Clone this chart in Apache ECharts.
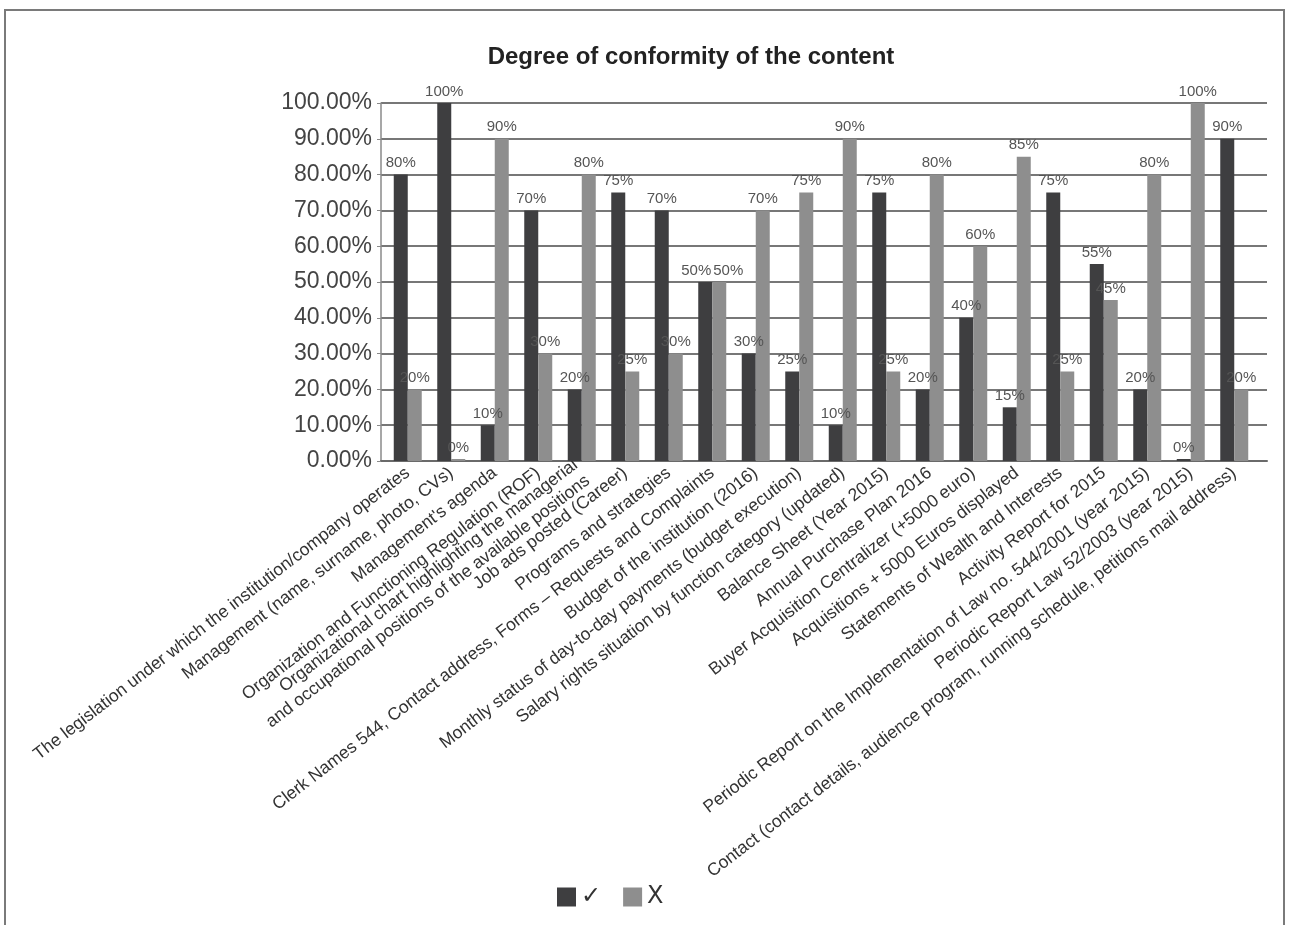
<!DOCTYPE html>
<html>
<head>
<meta charset="utf-8">
<script src="https://cdn.jsdelivr.net/npm/echarts@6/dist/echarts.min.js"></script>
<style>
html,body{margin:0;padding:0;background:#fff;}
#chart{width:1289px;height:925px;}
</style>
</head>
<body>
<div id="chart"></div>
<script>
const categories = [
  'The legislation under which the institution/company operates',
  'Management (name, surname, photo, CVs)',
  "Management's agenda",
  'Organization and Functioning Regulation (ROF)',
  'Organizational chart highlighting the managerial\nand occupational positions of the available positions',
  'Job ads posted (Career)',
  'Programs and strategies',
  'Clerk Names 544, Contact address, Forms – Requests and Complaints',
  'Budget of the institution (2016)',
  'Monthly status of day-to-day payments (budget execution)',
  'Salary rights situation by function category (updated)',
  'Balance Sheet (Year 2015)',
  'Annual Purchase Plan 2016',
  'Buyer Acquisition Centralizer (+5000 euro)',
  'Acquisitions + 5000 Euros displayed',
  'Statements of Wealth and Interests',
  'Activity Report for 2015',
  'Periodic Report on the Implementation of Law no. 544/2001 (year 2015)',
  'Periodic Report Law 52/2003 (year 2015)',
  'Contact (contact details, audience program, running schedule, petitions mail address)'
];
const conformValues    = [80, 100, 10, 70, 20, 75, 70, 50, 30, 25, 10, 75, 20, 40, 15, 75, 55, 20, 0, 90];
const nonConformValues = [20, 0, 90, 30, 80, 25, 30, 50, 70, 75, 90, 25, 80, 60, 85, 25, 45, 80, 100, 20];
const seriesNames = ['✓', 'X'];
const yMin = 0, yMax = 100, yStep = 10;

const chart = echarts.init(document.getElementById('chart'), null, {renderer: 'canvas'});
const sans = "'Liberation Sans', Arial, sans-serif";
const labelStyle = {
  show: true, position: 'top', distance: 4,
  formatter: p => p.value + '%',
  fontFamily: sans, fontSize: 15, color: '#555'
};
// spread apart labels of equal-height neighbouring bars so they do not collide
function withOffsets(values, other, dx) {
  return values.map((v, i) => v === other[i] ? {value: v, label: {offset: [dx, 0]}} : v);
}
const option = {
  backgroundColor: '#fff',
  animation: false,
  title: {
    text: 'Degree of conformity of the content',
    left: 686, top: 40, textAlign: 'center',
    textStyle: {fontFamily: sans, fontWeight: 'bold', fontSize: 24, color: '#222'}
  },
  legend: {
    left: 552, top: 880,
    itemWidth: 19, itemHeight: 19, itemGap: 22,
    icon: 'rect',
    data: seriesNames,
    textStyle: {fontFamily: "'DejaVu Sans', 'Liberation Sans', sans-serif", fontSize: 24, color: '#333'}
  },
  graphic: [{
    type: 'rect', silent: true, z: -1,
    shape: {x: 5, y: 10, width: 1279, height: 940},
    style: {fill: 'none', stroke: '#7a7a7a', lineWidth: 2}
  }],
  grid: [
    {left: 381, right: 22, top: 103, height: 358},
    {left: 386, width: 870, top: 103, height: 358}
  ],
  xAxis: [
    {gridIndex: 0, type: 'value', min: 0, max: 1,
     axisLine: {show: true, lineStyle: {color: '#6a6a6a', width: 2}},
     axisTick: {show: false}, axisLabel: {show: false}, splitLine: {show: false}},
    {gridIndex: 1, type: 'category', data: categories,
     axisLine: {show: false}, axisTick: {show: false},
     axisLabel: {interval: 0, rotate: 37.5, margin: 10, fontFamily: sans,
                 fontSize: 17.5, color: '#333', lineHeight: 20}}
  ],
  yAxis: [
    {gridIndex: 0, type: 'value', min: yMin, max: yMax, interval: yStep,
     axisLine: {show: true, lineStyle: {color: '#8a8a8a', width: 1.5}},
     axisTick: {show: true, length: 4, lineStyle: {color: '#8a8a8a'}},
     axisLabel: {formatter: v => v.toFixed(2) + '%', fontFamily: sans, fontSize: 23, color: '#444', margin: 9},
     splitLine: {show: true, lineStyle: {color: '#4a4a4a', width: 1.5}}},
    {gridIndex: 1, type: 'value', min: yMin, max: yMax, show: false}
  ],
  series: [
    {name: seriesNames[0], type: 'bar', xAxisIndex: 1, yAxisIndex: 1,
     data: withOffsets(conformValues, nonConformValues, -9), barWidth: 14, barGap: '0%', barMinHeight: 2,
     itemStyle: {color: '#3e3e40'}, label: labelStyle},
    {name: seriesNames[1], type: 'bar', xAxisIndex: 1, yAxisIndex: 1,
     data: withOffsets(nonConformValues, conformValues, 9), barWidth: 14, barGap: '0%', barMinHeight: 2,
     itemStyle: {color: '#8e8e8e'}, label: labelStyle}
  ]
};
chart.setOption(option);
</script>
</body>
</html>
